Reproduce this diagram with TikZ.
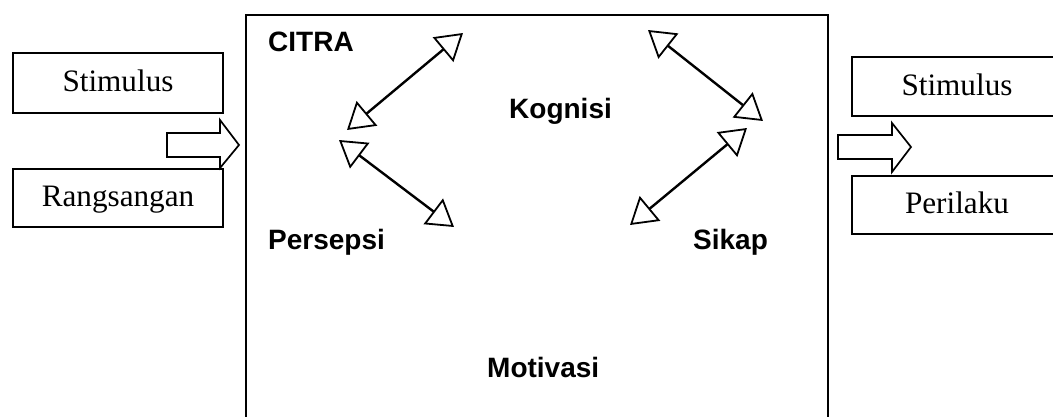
\documentclass[tikz,border=0pt]{standalone}
\usepackage{fontspec}
\setmainfont{Liberation Serif}
\newfontfamily\labfont{Liberation Sans}
\usetikzlibrary{arrows.meta}
\tikzset{
  sbox/.style={draw, line width=1.5pt, rectangle, inner sep=0pt, minimum width=210pt,
    text height=22pt, text depth=4pt, font=\fontsize{31.2}{36}\selectfont},
  lab/.style={anchor=base west, inner sep=0pt, font=\labfont\bfseries\fontsize{28}{32}\selectfont},
  dbl/.style={line width=2.4pt, {Triangle[open, length=26pt, width=32pt, line width=1.8pt]}-{Triangle[open, length=26pt, width=32pt, line width=1.8pt]}},
  blockarrow/.style={draw, line width=1.7pt, fill=white, line join=miter}
}
\begin{document}
\begin{tikzpicture}[x=1pt, y=-1pt]
\useasboundingbox (0,0) rectangle (1053,417);
\clip (0,0) rectangle (1053,417);
\fill[white] (0,0) rectangle (1053,417);
% main frame
\draw[line width=2.2pt] (246,430) -- (246,15) -- (828,15) -- (828,430);
% boxes
\node[sbox, minimum height=60pt] (stimL) at (118,83) {Stimulus};
\node[sbox, minimum height=58pt] (rang) at (118,198) {Rangsangan};
\node[sbox, minimum height=59pt] (stimR) at (957,86.5) {Stimulus};
\node[sbox, minimum height=58pt] (peri) at (957,205) {Perilaku};
% block arrows
\draw[blockarrow] (167,133) -- (220,133) -- (220,120) -- (239,145) -- (220,168) -- (220,157) -- (167,157) -- cycle;
\draw[blockarrow] (838,135) -- (892,135) -- (892,123) -- (911,147) -- (892,172) -- (892,159) -- (838,159) -- cycle;
% labels
\node[lab] (citra) at (268,52) {CITRA};
\node[lab] (kog) at (509,119) {Kognisi};
\node[lab] (pers) at (268,249) {Persepsi};
\node[lab] (sik) at (693,249) {Sikap};
\node[lab] (mot) at (487,377) {Motivasi};
% double arrows
\coordinate (a1) at (463,33);
\coordinate (a2) at (347,130);
\coordinate (b1) at (339,140);
\coordinate (b2) at (454,227);
\coordinate (c1) at (648,30);
\coordinate (c2) at (763,121);
\coordinate (d1) at (747,128);
\coordinate (d2) at (630,225);
\draw[dbl] (a1) -- (a2);
\draw[dbl] (b1) -- (b2);
\draw[dbl] (c1) -- (c2);
\draw[dbl] (d1) -- (d2);
\end{tikzpicture}
\end{document}
